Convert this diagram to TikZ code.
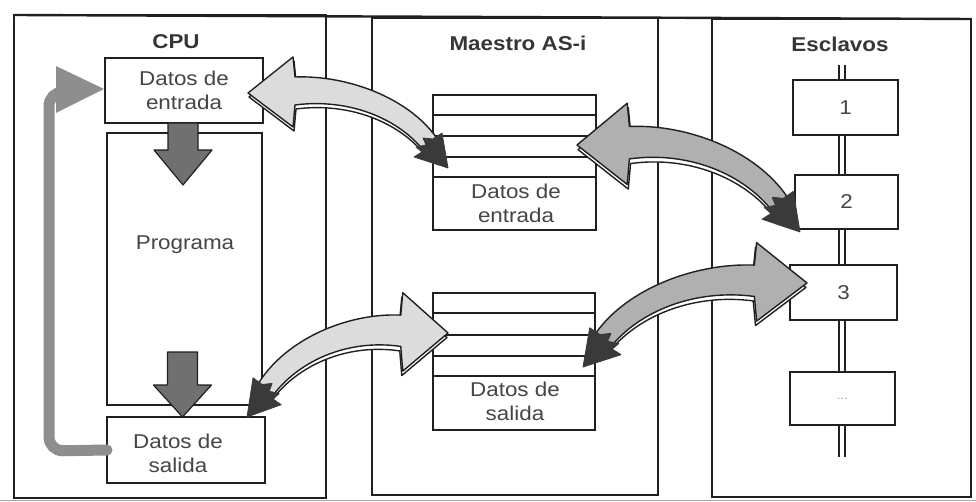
\documentclass[tikz,border=0pt]{standalone}
\usepackage{fontspec}
\setmainfont{Liberation Sans}[FakeStretch=1.12]
\usetikzlibrary{calc}
\definecolor{lightfill}{HTML}{DCDCDC}
\definecolor{midfill}{HTML}{B0B0B0}
\definecolor{headdark}{HTML}{3A3A3A}
\definecolor{fbgray}{HTML}{8E8E8E}
\definecolor{downfill}{HTML}{707070}
\definecolor{ink}{HTML}{202020}
\definecolor{txtc}{HTML}{454545}
\tikzset{
  pics/blockarrow/.style={code={
    \filldraw[fill=white, draw=ink, line width=1.4pt, line join=round, shift={(1,4)}]
      (0,0) -- (45,-36) -- (47,-16) .. controls (100,-18) and (160,5) .. (188,44)
      -- (176,58) .. controls (150,25) and (100,5) .. (47,12) -- (45,34) -- cycle;
    \filldraw[fill=#1, draw=ink, line width=1.4pt, line join=round]
      (0,0) -- (45,-36) -- (47,-16) .. controls (100,-18) and (160,5) .. (188,44)
      -- (176,58) .. controls (150,25) and (100,5) .. (47,12) -- (45,34) -- cycle;
    \filldraw[fill=headdark, draw=headdark, line width=0.8pt, line join=round]
      (194,40) -- (200,75) -- (166,64) -- (174,59) -- (168,54) -- (178,52)
      -- (175,45) -- (185,46) -- cycle;
  }},
  pics/downarrow/.style 2 args={code={
    \filldraw[fill=downfill, draw=ink, line width=1.2pt, line join=round]
      (-15,0) -- (15,0) -- (15,#1) -- (29,#1) -- (0,#2) -- (-29,#1) -- (-15,#1) -- cycle;
  }}
}
\begin{document}
\begin{tikzpicture}[x=1pt,y=-1pt,
  panel/.style={draw=ink, line width=2.4pt},
  box/.style={draw=ink, line width=1.8pt, fill=white, inner sep=0pt, outer sep=0pt,
    text=txtc, font=\fontsize{20}{24}\selectfont, align=center},
  rowline/.style={draw=ink, line width=1.8pt},
  txt/.style={text=txtc, font=\fontsize{20}{24}\selectfont, align=center, inner sep=0pt},
  lbl/.style={text=ink!90, font=\fontsize{20}{24}\selectfont\bfseries, inner sep=0pt},
  bus/.style={draw=ink, line width=1.5pt, double=white, double distance=4.5pt}
]
\useasboundingbox (0,0) rectangle (976,502);
\fill[white] (0,0) rectangle (976,502);

% frame and panels
\draw[black!35, line width=0.8pt] (0,500) -- (976,500);
\draw[panel] (14,15) -- (971,19);
\draw[panel] (14,15) rectangle (326,498);
\draw[panel] (372,18) rectangle (658,495);
\draw[panel] (712,19) rectangle (971,497);

% titles
\node[lbl] (cpulbl) at (176,42) {CPU};
\node[lbl] (maelbl) at (518,43) {Maestro AS-i};
\node[lbl] (esclbl) at (840,44) {Esclavos};

% CPU boxes
\node[box, minimum width=158, minimum height=65] (cpuin) at (184,90.5) {Datos de\\entrada};
\node[box, minimum width=155, minimum height=272] (prog) at (184.5,269) {};
\node[txt] (progtxt) at (185,245) {Programa};
\node[box, minimum width=158, minimum height=66] (cpusal) at (186,450) {};
\node[txt] (saltxt) at (178,453) {Datos de\\salida};

% Maestro tables
\node[box, minimum width=163, minimum height=135] (mtin) at (514.5,162.5) {};
\foreach \d in {20,41,62,82}
  \draw[rowline] ($(mtin.north west)+(0,\d)$) -- ($(mtin.north east)+(0,\d)$);
\node[txt] (mtintxt) at (516,203) {Datos de\\entrada};
\node[box, minimum width=162, minimum height=137] (mtout) at (514,361.5) {};
\foreach \d in {20,42,63,83}
  \draw[rowline] ($(mtout.north west)+(0,\d)$) -- ($(mtout.north east)+(0,\d)$);
\node[txt] (mtouttxt) at (515,401) {Datos de\\salida};

% slaves
\coordinate (bustop) at (842,65);
\coordinate (busbot) at (842,457);
\draw[bus] (bustop) -- (busbot);
\node[box, minimum width=105, minimum height=55] (s1) at (845.5,107.5) {1};
\node[box, minimum width=103, minimum height=54] (s2) at (846.5,202) {2};
\node[box, minimum width=107, minimum height=55] (s3) at (843.5,292.5) {3};
\node[box, minimum width=105, minimum height=53, text=black!35,
      font=\fontsize{12}{14}\selectfont] (s4) at (842.5,398.5) {...};

% CPU internal arrows
\coordinate (fbstart) at (cpusal.west);
\coordinate (fbtip) at (104,89);
\draw[fbgray, line width=11pt, rounded corners=14pt, line cap=round]
  (fbstart) -- (49,451) -- (49,92) -- (62,92);
\fill[fbgray] (56,66) -- (fbtip) -- (56,113) -- cycle;
\pic at (183,123) {downarrow={27}{62}};
\pic at (182.5,352) {downarrow={33}{65}};

% curved block arrows
\coordinate (a1big) at (248,93);
\coordinate (a2big) at (577,145);
\coordinate (a3big) at (448,333);
\coordinate (a4big) at (807,283);
\pic at (a1big) {blockarrow=lightfill};
\pic[xscale=1.115, yscale=1.16] at (a2big) {blockarrow=midfill};
\pic[xscale=-1.005, yscale=1.12] at (a3big) {blockarrow=lightfill};
\pic[xscale=-1.12, yscale=1.12] at (a4big) {blockarrow=midfill};
\end{tikzpicture}
\end{document}
